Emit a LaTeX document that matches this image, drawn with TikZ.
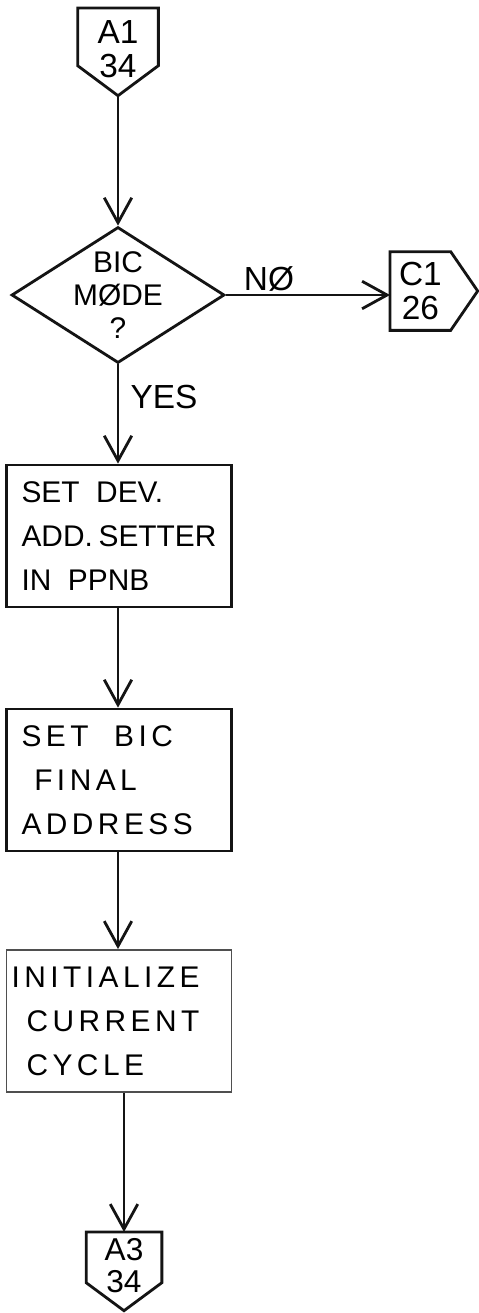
\documentclass[tikz,border=0pt]{standalone}
\usepackage{fontspec}
\setmainfont{Liberation Sans}
\newfontfamily\spacedhand[LetterSpace=15]{Liberation Sans}
\usetikzlibrary{shapes.geometric,arrows.meta}
\definecolor{inkblack}{HTML}{141414}
\tikzset{
  process/.style={rectangle,draw=inkblack,line width=1.6pt,minimum width=4.5cm,
    minimum height=2.84cm,text width=3.9cm,inner xsep=0.3cm,align=flush left,
    font=\fontsize{17}{25}\selectfont},
  spaced/.style={font=\spacedhand\fontsize{17}{25}\selectfont},
  faint process/.style={process,spaced,draw=inkblack!75,line width=1.1pt,
    text width=4.3cm,inner xsep=0.1cm},
  decision/.style={diamond,draw=inkblack,line width=1.6pt,inner sep=0pt,
    minimum width=4.26cm,minimum height=2.72cm},
  offpage/.style={rectangle,inner sep=0pt},
  outline/.style={draw=inkblack,line width=1.6pt,line join=miter},
  pentext/.style={align=center,font=\fontsize{19}{19}\selectfont},
  flow/.style={draw=inkblack,line width=1.6pt,-{Straight Barb[length=5mm,width=5.5mm]}},
  branch/.style={font=\fontsize{19}{21}\selectfont}
}

\begin{document}
\begin{tikzpicture}[x=0.02cm,y=-0.02cm]
  \useasboundingbox (0,0) rectangle (478,1313);
  % off-page connectors
  \node[offpage,minimum width=1.6cm,minimum height=1.14cm,anchor=north,
    label={[pentext,yshift=-0.25cm]center:A1\\34}] (a1) at (118,8) {};
  \draw[outline] (a1.south west) -- (a1.north west) -- (a1.north east)
    -- (a1.south east) -- ([yshift=-0.6cm]a1.south) coordinate (a1 tip) -- cycle;
  \node[offpage,minimum width=1.2cm,minimum height=1.56cm,anchor=west,
    label={[pentext]center:C1\\26}] (c1) at (390,291) {};
  \draw[outline] (c1.north east) -- (c1.north west) -- (c1.south west)
    -- (c1.south east) -- ([xshift=0.54cm]c1.east) -- cycle;
  \node[offpage,minimum width=1.5cm,minimum height=1.0cm,anchor=north,
    label={[pentext,font=\fontsize{18}{18}\selectfont,yshift=-0.16cm]center:A3\\34}]
    (a3) at (124,1232) {};
  \draw[outline] (a3.south west) -- (a3.north west) -- (a3.north east)
    -- (a3.south east) -- ([yshift=-0.56cm]a3.south) -- cycle;
  % main column
  \node[decision,label={[align=center,font=\fontsize{17}{19}\selectfont]center:BIC\\MØDE\\?}]
    (bic) at (118,295) {};
  \node[process] (setdev) at (119,536) {SET\ \ DEV.\\ADD.~SETTER\\IN\ \ PPNB};
  \node[process,spaced] (setbic) at (119,780) {SET\ \ BIC\\\ FINAL\\ADDRESS};
  \node[faint process] (init) at (119,1021)
    {INITIALIZE\\\hspace*{0.3cm}CURRENT\\\hspace*{0.3cm}CYCLE};
  \node[branch] (no) at (269,279) {NØ};
  \node[branch] (yes) at (164,397) {YES};
  \draw[flow] (a1 tip) -- (bic.north);
  \draw[flow] (bic.east) -- (bic.east -| c1.west);
  \draw[flow] (bic.south) -- (bic.south |- setdev.north);
  \draw[flow] (setdev.south -| bic.south) -- (bic.south |- setbic.north);
  \draw[flow] (setbic.south -| bic.south) -- (bic.south |- init.north);
  \draw[flow] (init.south -| a3.north) -- (a3.north);
\end{tikzpicture}
\end{document}
